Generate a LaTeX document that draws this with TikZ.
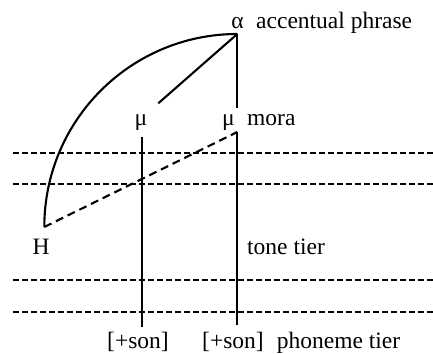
\documentclass[tikz,border=0pt]{standalone}
\usepackage{fontspec}
\setmainfont{Liberation Serif}
\begin{document}
\begin{tikzpicture}[x=1pt,y=-1pt,
  lbl/.style={inner sep=0pt, anchor=base, font=\fontsize{23.5}{28}\selectfont},
  lblw/.style={lbl, anchor=base west},
  solidline/.style={line width=2.1pt},
  tierline/.style={line width=1.7pt, dash pattern=on 6pt off 3pt},
  assoc/.style={line width=2.1pt, dash pattern=on 8pt off 5pt}]
\useasboundingbox (0,0) rectangle (433,353);
% labels
\node[lbl] (alpha) at (237.5,29) {α};
\node[lblw] (ap) at (256,29) {accentual phrase};
\node[lbl] (mu1) at (141,125) {μ};
\node[lbl] (mu2) at (228.5,125) {μ};
\node[lblw] (mora) at (247,125) {mora};
\node[lbl] (H) at (41,254) {H};
\node[lblw] (tone) at (247,254.5) {tone tier};
\node[lbl] (son1) at (138,348) {[+son]};
\node[lbl] (son2) at (233,348) {[+son]};
\node[lblw] (phon) at (276.7,348) {phoneme tier};
% anchor points
\coordinate (top) at (237.3,34);
\coordinate (d1) at (158.3,103.3);
\coordinate (v2a) at (237.3,108);
\coordinate (v1t) at (142,137);
\coordinate (v1b) at (142,327);
\coordinate (v2t) at (237.3,132);
\coordinate (v2b) at (237.3,325);
\coordinate (hend) at (44.3,227);
\foreach \y/\n in {153/A,184/B,280/C,312/D}{
  \coordinate (\n l) at (13,\y);
  \coordinate (\n r) at (433,\y);
}
% tier lines
\foreach \n in {A,B,C,D}{
  \draw[tierline] (\n l) -- (\n r);
}
% association lines
\draw[solidline] (top) -- (d1);
\draw[solidline] (top) -- (v2a);
\draw[solidline] (top) .. controls (130.7,34) and (44.3,120.4) .. (hend);
\draw[solidline] (v1t) -- (v1b);
\draw[solidline] (v2t) -- (v2b);
\draw[assoc] (hend) -- (v2t);
\end{tikzpicture}
\end{document}
